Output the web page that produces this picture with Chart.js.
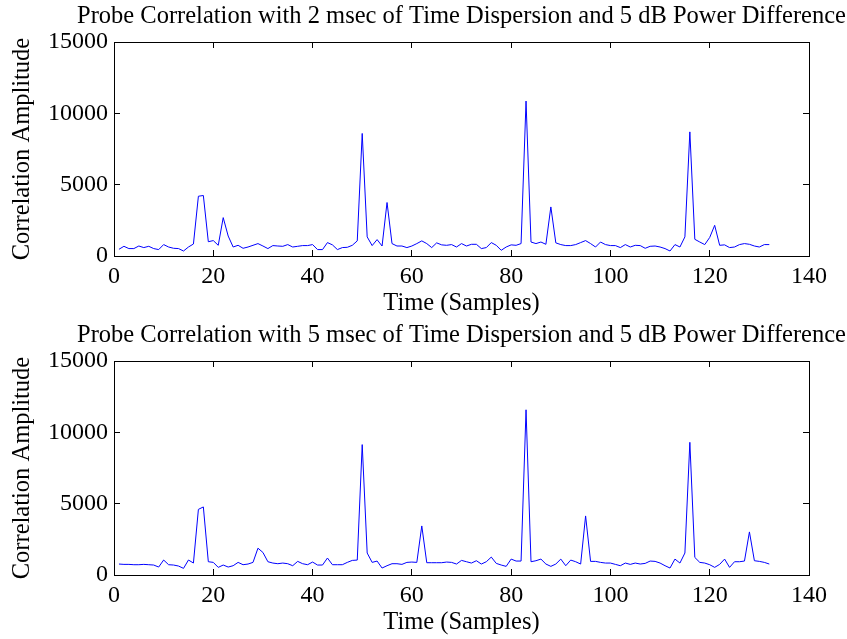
<!DOCTYPE html>
<html>
<head>
<meta charset="utf-8">
<title>Probe Correlation</title>
<script src="https://cdn.jsdelivr.net/npm/chart.js@4.4.1/dist/chart.umd.min.js"></script>
<style>
    html, body { margin: 0; padding: 0; background: #fff; }
    .plot { position: absolute; left: 0; width: 847px; height: 320px; }
</style>
</head>
<body>
<div class="plot" style="top: 0"><canvas id="probe2"></canvas></div>
<div class="plot" style="top: 319px"><canvas id="probe5"></canvas></div>
<script>
// sample index (x)
const samples = Array.from({ length: 132 }, (_, i) => i + 1);

// 2 msec dispersion
const probe2ms = [
    470, 680, 520, 520, 700, 590, 680, 520, 450, 800,
    630, 540, 520, 350, 630, 840, 4190, 4240, 1000, 1080,
    750, 2690, 1400, 630, 750, 540, 630, 750, 870, 700,
    520, 730, 700, 680, 800, 630, 680, 730, 730, 800,
    450, 450, 940, 780, 450, 590, 610, 750, 1060, 8590,
    1340, 730, 1150, 700, 3750, 870, 700, 700, 590, 700,
    870, 1060, 870, 590, 920, 780, 750, 800, 630, 870,
    700, 820, 820, 520, 590, 940, 750, 400, 630, 780,
    750, 870, 10860, 980, 870, 980, 820, 3440, 920, 800,
    730, 730, 800, 940, 1080, 870, 630, 980, 800, 730,
    730, 590, 800, 630, 750, 730, 540, 680, 700, 630,
    520, 350, 800, 630, 1340, 8700, 1170, 980, 800, 1300,
    2150, 750, 780, 590, 630, 800, 870, 820, 700, 630,
    800, 800,
];

// 5 msec dispersion
const probe5ms = [
    768, 744, 744, 721, 721, 744, 721, 698, 558, 1050,
    721, 698, 628, 465, 1050, 840, 4600, 4770, 930, 884,
    535, 698, 558, 651, 884, 721, 768, 884, 1880, 1580,
    930, 837, 791, 837, 791, 651, 954, 791, 721, 907,
    698, 698, 1190, 721, 721, 721, 884, 1023, 1047, 9140,
    1540, 884, 977, 488, 651, 791, 791, 744, 884, 907,
    884, 3440, 861, 861, 861, 861, 907, 884, 768, 1023,
    930, 837, 1000, 768, 930, 1256, 814, 698, 605, 1116,
    977, 977, 11580, 930, 1000, 1116, 768, 605, 768, 1116,
    651, 1047, 930, 768, 4140, 954, 954, 884, 837, 837,
    744, 651, 837, 744, 837, 768, 814, 977, 954, 837,
    651, 488, 1116, 837, 1540, 9300, 1230, 884, 837, 721,
    535, 744, 1116, 535, 930, 930, 977, 3020, 1000, 954,
    884, 768,
];

const xTickValues = [0, 20, 40, 60, 80, 100, 120, 140];
const yTickValues = [0, 5000, 10000, 15000];

const titles = [
    "Probe Correlation with 2 msec of Time Dispersion and 5 dB Power Difference",
    "Probe Correlation with 5 msec of Time Dispersion and 5 dB Power Difference",
];
const xLabel = "Time (Samples)";
const yLabel = "Correlation Amplitude";

const serif = "'Liberation Serif', 'Times New Roman', serif";

// matlab style: small tick marks pointing into the box, on all four sides
const tickGrid = { drawOnChartArea: false, tickLength: -6, color: "#000", lineWidth: 1 };
const boxBorder = { color: "#000", width: 1 };

const fixTicks = (values) => (scale) => {
    scale.ticks = values.map((v) => ({ value: v }));
};

// title centred over the axes box (wider than the box, so no built-in title)
const axesTitle = {
    id: "axesTitle",
    afterDraw(chart, args, opts) {
        const { ctx, chartArea } = chart;
        ctx.save();
        ctx.font = "24.5px " + serif;
        ctx.fillStyle = "#000";
        ctx.textAlign = "center";
        ctx.textBaseline = "alphabetic";
        ctx.fillText(opts.text, (chartArea.left + chartArea.right) / 2, opts.baseline);
        ctx.restore();
    },
};

function probeChart(canvasId, title, values) {
    return new Chart(document.getElementById(canvasId), {
        type: "line",
        data: {
            labels: samples,
            datasets: [
                {
                    data: values,
                    borderColor: "#0000ff",
                    borderWidth: 1,
                    pointRadius: 0,
                    tension: 0,
                    fill: false,
                },
            ],
        },
        options: {
            responsive: true,
            maintainAspectRatio: false,
            animation: false,
            layout: { padding: { left: 0, right: 0, top: 0, bottom: 2 } },
            plugins: {
                legend: { display: false },
                tooltip: { enabled: false },
                axesTitle: { text: title, baseline: 23 },
            },
            scales: {
                x: {
                    type: "linear",
                    position: "bottom",
                    min: 0,
                    max: 140,
                    afterBuildTicks: fixTicks(xTickValues),
                    afterFit: (s) => { s.height = 62; },
                    grid: tickGrid,
                    border: boxBorder,
                    ticks: {
                        color: "#000",
                        padding: 12,
                        autoSkip: false,
                        maxRotation: 0,
                        font: { family: serif, size: 24 },
                        callback: (v) => String(v),
                    },
                    title: {
                        display: true,
                        text: xLabel,
                        color: "#000",
                        padding: 0,
                        font: { family: serif, size: 24.5 },
                    },
                },
                x2: {
                    type: "linear",
                    position: "top",
                    min: 0,
                    max: 140,
                    afterBuildTicks: fixTicks(xTickValues),
                    afterFit: (s) => { s.height = 42; },
                    grid: tickGrid,
                    border: boxBorder,
                    ticks: { display: false },
                },
                y: {
                    position: "left",
                    min: 0,
                    max: 15000,
                    afterBuildTicks: fixTicks(yTickValues),
                    afterFit: (s) => { s.width = 114; },
                    grid: tickGrid,
                    border: boxBorder,
                    ticks: {
                        color: "#000",
                        padding: 12,
                        autoSkip: false,
                        font: { family: serif, size: 24 },
                        callback: (v) => String(v),
                    },
                    title: {
                        display: true,
                        text: yLabel,
                        color: "#000",
                        padding: { top: 8, bottom: 0 },
                        font: { family: serif, size: 24.5 },
                    },
                },
                y2: {
                    position: "right",
                    min: 0,
                    max: 15000,
                    afterBuildTicks: fixTicks(yTickValues),
                    afterFit: (s) => { s.width = 38; },
                    grid: tickGrid,
                    border: boxBorder,
                    ticks: { display: false },
                },
            },
        },
        plugins: [axesTitle],
    });
}

probeChart("probe2", titles[0], probe2ms);
probeChart("probe5", titles[1], probe5ms);
</script>
</body>
</html>
